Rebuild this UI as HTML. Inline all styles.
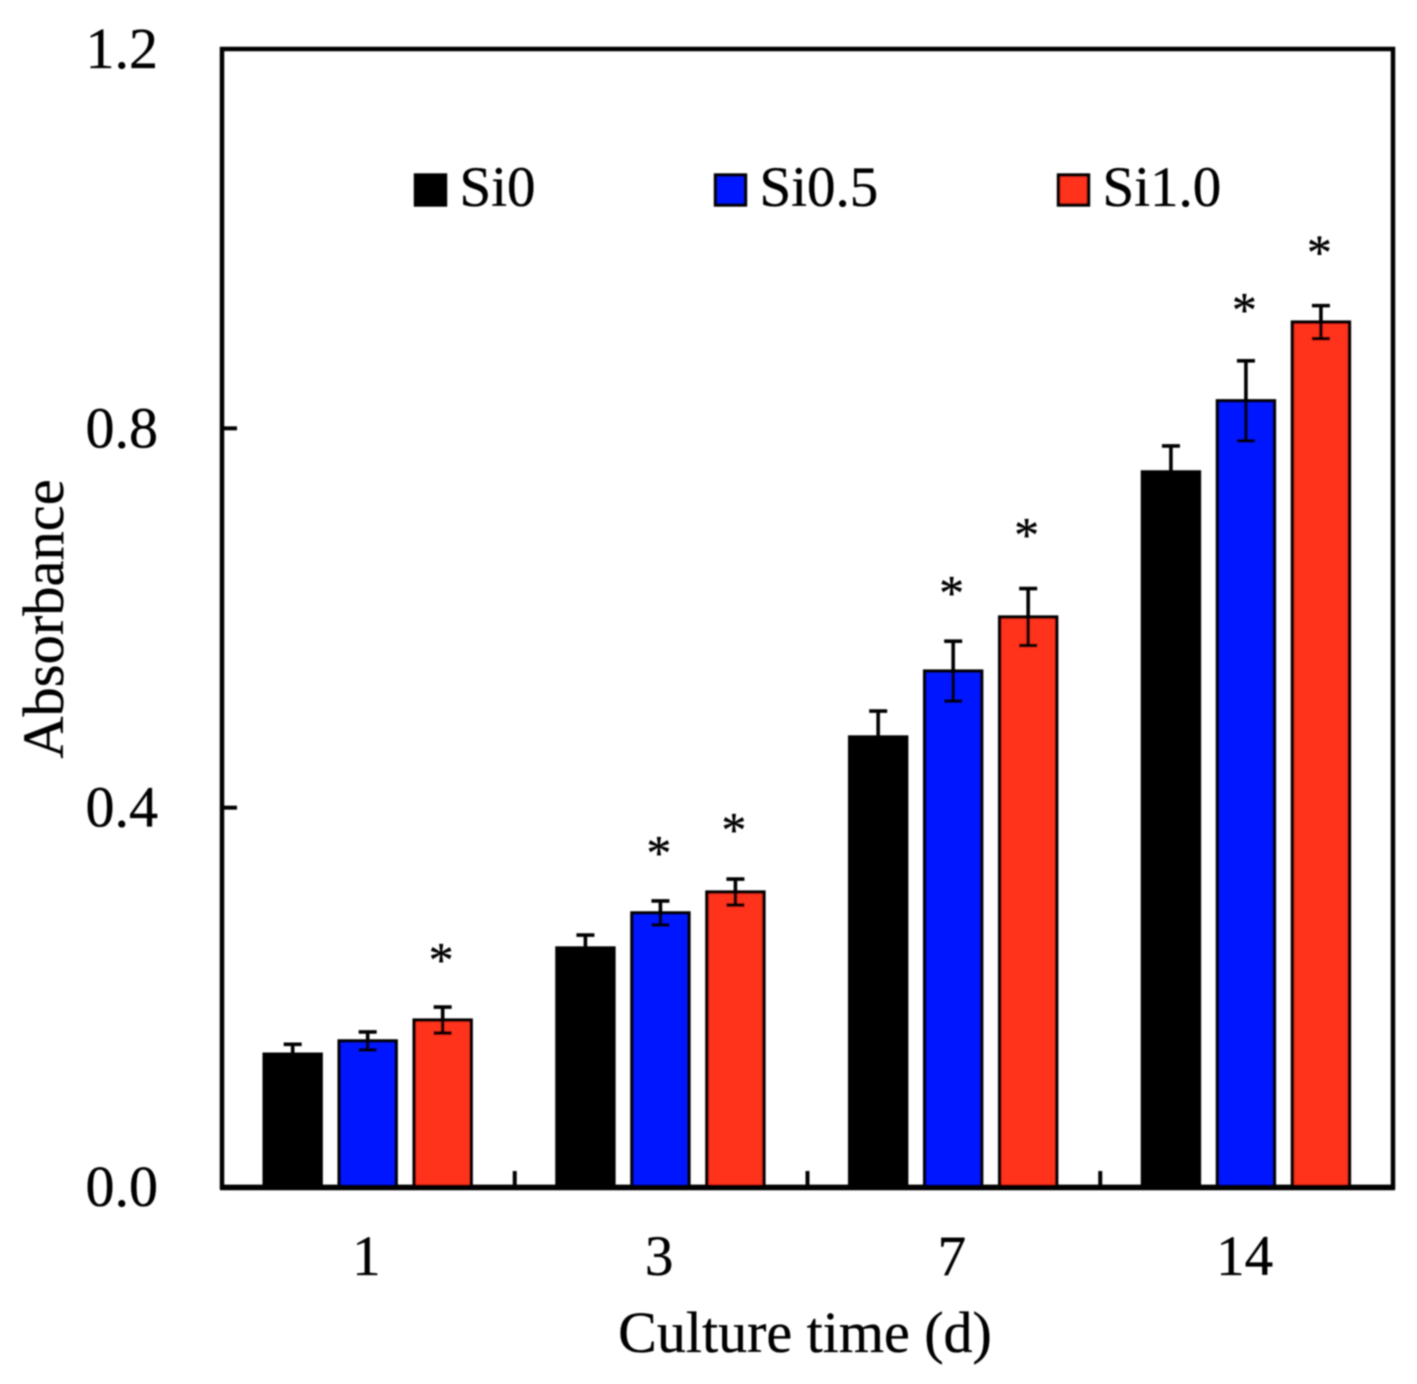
<!DOCTYPE html>
<html lang="en">
<head>
<meta charset="utf-8">
<title>Absorbance vs culture time</title>
<style>
  html, body { margin: 0; padding: 0; background: #ffffff; }
  #chart { display: block; width: 1417px; height: 1384px; }
  text { font-family: "Liberation Serif", "Times New Roman", serif; fill: #000; stroke: #000; stroke-width: 0.35px; }
</style>
</head>
<body>
<svg id="chart" xmlns="http://www.w3.org/2000/svg" width="1417" height="1384" viewBox="0 0 1417 1384">
  <defs>
    <filter id="soft" x="-2%" y="-2%" width="104%" height="104%"><feGaussianBlur stdDeviation="0.8"/></filter>
  </defs>
  <g id="root" filter="url(#soft)"></g>
</svg>
<script>
const categories = ['1', '3', '7', '14'];
const seriesNames = ['Si0', 'Si0.5', 'Si1.0'];
const si0Values = [0.140, 0.252, 0.4745, 0.754];
const si05Values = [0.154, 0.289, 0.544, 0.829];
const si10Values = [0.176, 0.311, 0.601, 0.912];
const si0Errors = [0.0105, 0.0137, 0.0274, 0.0274];
const si05Errors = [0.0095, 0.0127, 0.0316, 0.0422];
const si10Errors = [0.0137, 0.0137, 0.0300, 0.0174];
const si05Stars = [null, 0.3595, 0.6337, 0.932];
const si10Stars = [0.2470, 0.3837, 0.6948, 0.993];
const yTicks = ['0.0', '0.4', '0.8', '1.2'];
const yMax = 1.2;

const seriesValues = [si0Values, si05Values, si10Values];
const seriesErrors = [si0Errors, si05Errors, si10Errors];
const seriesStars = [[null, null, null, null], si05Stars, si10Stars];
const seriesColors = ['#000000', '#0016ff', '#ff301e'];

const NS = 'http://www.w3.org/2000/svg';
const root = document.getElementById('root');
const plot = { left: 222, right: 1393, top: 49, bottom: 1187 };
const bandWidth = (plot.right - plot.left) / categories.length;
const barWidth = 57;
const barStep = 75;
const barShift = -0.7;
const starShift = -1.5;

function yScale(v) { return plot.bottom - (v / yMax) * (plot.bottom - plot.top); }
function xBand(i) { return plot.left + bandWidth * (i + 0.5); }
function xBar(i, s) { return xBand(i) + (s - 1) * barStep + barShift; }

function make(tag, attrs, text) {
  const el = document.createElementNS(NS, tag);
  for (const k in attrs) el.setAttribute(k, attrs[k]);
  if (text !== undefined) el.textContent = text;
  root.appendChild(el);
  return el;
}

seriesNames.forEach(function (name, s) {
  categories.forEach(function (cat, i) {
    const v = seriesValues[s][i];
    const e = seriesErrors[s][i];
    const cx = xBar(i, s);
    const bar = make('rect', {
      x: cx - barWidth / 2, y: yScale(v), width: barWidth, height: plot.bottom - yScale(v),
      fill: seriesColors[s], stroke: '#000', 'stroke-width': 3.4
    });
    
    

    const capHalf = 9;
    const stem = make('line', { x1: cx, x2: cx, y1: yScale(v + e), y2: yScale(s === 0 ? v : v - e), stroke: '#000', 'stroke-width': 3.6 });
    
    
    const capTop = make('line', { x1: cx - capHalf, x2: cx + capHalf, y1: yScale(v + e), y2: yScale(v + e), stroke: '#000', 'stroke-width': 3.6 });
    
    
    if (s !== 0) {
      const capLow = make('line', { x1: cx - capHalf, x2: cx + capHalf, y1: yScale(v - e), y2: yScale(v - e), stroke: '#000', 'stroke-width': 3.6 });
      
      
    }

    const star = seriesStars[s][i];
    if (star !== null) {
      const starFont = 50;
      const mark = make('text', {
        x: cx + starShift, y: yScale(star) + starFont * 0.47, 'text-anchor': 'middle', 'font-size': starFont
      }, '*');
      
      
    }
  });
});

const frame = make('rect', {
  x: plot.left, y: plot.top, width: plot.right - plot.left, height: plot.bottom - plot.top,
  fill: 'none', stroke: '#000', 'stroke-width': 4.5
});



const xAxisLine = make('line', { x1: plot.left - 2, x2: plot.right + 2, y1: plot.bottom + 0.5, y2: plot.bottom + 0.5, stroke: '#000', 'stroke-width': 5.5 });



yTicks.forEach(function (label) {
  const v = parseFloat(label);
  const y = yScale(v);
  if (v > 0 && v < yMax) {
    const tick = make('line', { x1: plot.left, x2: plot.left + 15, y1: y, y2: y, stroke: '#000', 'stroke-width': 4 });
    
    
  }
  const t = make('text', { x: 158, y: y + 19, 'text-anchor': 'end', 'font-size': 58 }, label);
  
  
});

categories.forEach(function (cat, i) {
  const t = make('text', { x: xBand(i) - 2, y: 1275, 'text-anchor': 'middle', 'font-size': 57 }, cat);
  
  
  if (i > 0) {
    const bx = plot.left + bandWidth * i;
    const tick = make('line', { x1: bx, x2: bx, y1: plot.bottom, y2: plot.bottom - 16, stroke: '#000', 'stroke-width': 4 });
    
    
  }
});

const xTitle = make('text', { x: 805, y: 1352, 'text-anchor': 'middle', 'font-size': 58 }, 'Culture time (d)');



const yTitle = make('text', { x: 0, y: 0, 'text-anchor': 'middle', 'font-size': 58.5, transform: 'translate(63 619) rotate(-90)' }, 'Absorbance');



const legendSwatchX = [430.5, 730.5, 1073.5];
seriesNames.forEach(function (name, s) {
  const swatch = make('rect', { x: legendSwatchX[s] - 15, y: 175, width: 30, height: 30, fill: seriesColors[s], stroke: '#000', 'stroke-width': 3.4 });
  
  
  const label = make('text', { x: legendSwatchX[s] + 29, y: 206, 'font-size': 57 }, name);
  
  
});
</script>
</body>
</html>
